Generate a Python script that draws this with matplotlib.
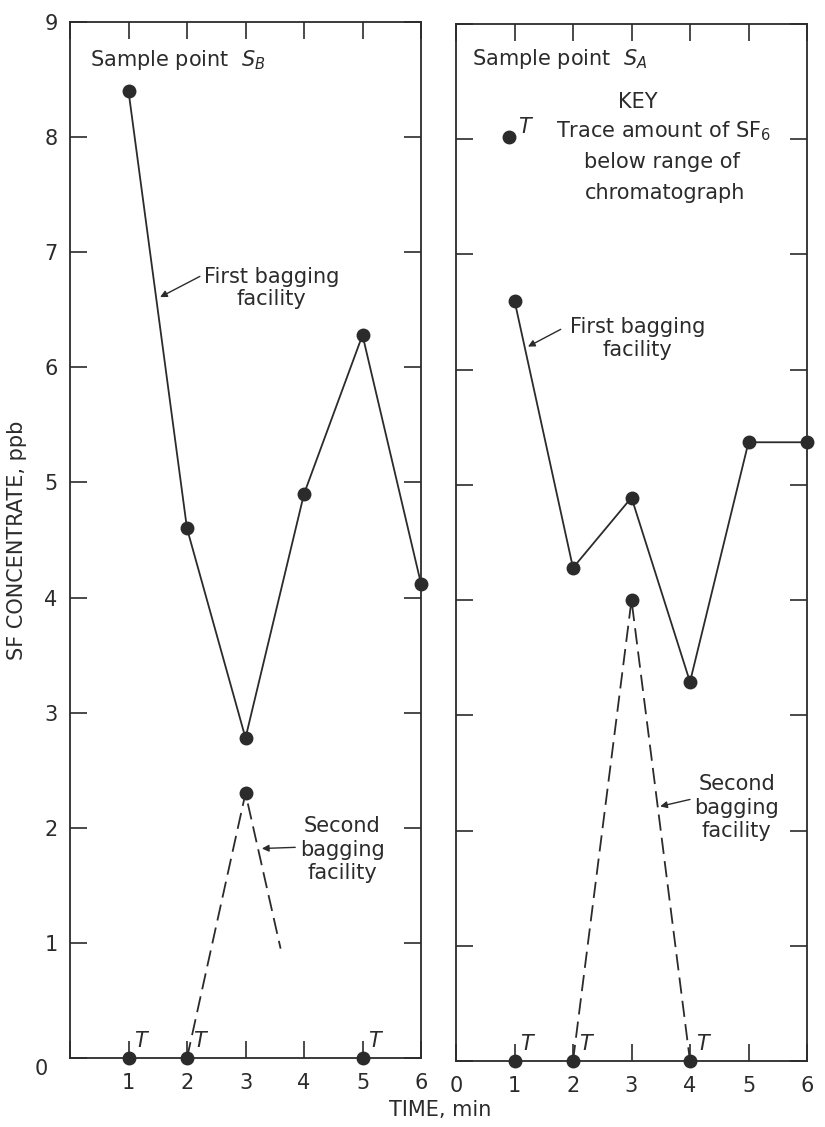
import matplotlib
matplotlib.use("Agg")
import matplotlib.pyplot as plt

# ---- data ----
time_min = [1, 2, 3, 4, 5, 6]

# sample point S_B (left)
sb_first = [8.4, 4.6, 2.78, 4.9, 6.28, 4.12]
sb_second_x = [2, 3, 3.6]
sb_second_y = [0.0, 2.3, 0.95]
sb_trace_x = [1, 2, 5]

# sample point S_A (right)
sa_first = [6.6, 4.28, 4.89, 3.29, 5.37, 5.37]
sa_second_x = [2, 3, 4]
sa_second_y = [0.0, 4.0, 0.0]
sa_trace_x = [1, 2, 4]

key_point = (0.91, 8.02)

ink = "#2b2b2b"
plt.rcParams["font.family"] = ["DejaVu Sans"]
plt.rcParams["mathtext.fontset"] = "dejavusans"
fs = 15

fig = plt.figure(figsize=(8.25, 11.27), dpi=100)
axL = fig.add_axes([70 / 825, 1 - 1058 / 1127, 351 / 825, 1036 / 1127])
axR = fig.add_axes([456 / 825, 1 - 1061 / 1127, 351 / 825, 1037 / 1127])


def style(ax):
    ax.set_xlim(0, 6)
    ax.set_ylim(0, 9)
    for s in ax.spines.values():
        s.set_color(ink)
        s.set_linewidth(1.3)
    ax.set_xticks(range(0, 7))
    ax.set_yticks(range(0, 10))
    ax.tick_params(direction="in", length=12, width=1.2, color=ink,
                   top=True, right=True, labelsize=fs, labelcolor=ink)
    ax.tick_params(axis="x", pad=11)
    ax.tick_params(axis="y", pad=9)


def trace(ax, xs):
    for x in xs:
        ax.plot([x], [0], "o", color=ink, ms=9, clip_on=False, zorder=5)
        ax.annotate("$T$", xy=(x, 0), xytext=(4, 5), textcoords="offset points",
                    fontsize=15, color=ink, va="bottom", ha="left")


def arrow(ax, tip, tail):
    ax.annotate("", xy=tip, xytext=tail,
                arrowprops=dict(arrowstyle="-|>", color=ink, lw=1.0,
                                mutation_scale=10, shrinkA=0, shrinkB=0))


style(axL)
style(axR)

# left panel
axL.plot(time_min, sb_first, "-o", color=ink, lw=1.3, ms=9, clip_on=False, zorder=4)
axL.plot(sb_second_x, sb_second_y, color=ink, lw=1.3, ls=(0, (9, 4)), clip_on=False)
axL.plot([3], [2.3], "o", color=ink, ms=9)
trace(axL, sb_trace_x)
axL.set_yticklabels([""] + [str(i) for i in range(1, 10)])
axL.set_xticklabels([""] + [str(i) for i in range(1, 7)])
axL.annotate("0", xy=(0, 0), xytext=(-29, -1), textcoords="offset pixels",
             fontsize=fs, color=ink, ha="center", va="top")
axL.set_ylabel("SF CONCENTRATE, ppb", fontsize=fs, color=ink, labelpad=12)

axL.text(0.34, 8.67, "Sample point  $S_B$", fontsize=fs, color=ink, va="center")
axL.text(3.45, 6.69, "First bagging\nfacility", fontsize=fs, color=ink,
         va="center", ha="center", linespacing=1.15)
arrow(axL, (1.54, 6.61), (2.22, 6.79))
axL.text(4.65, 1.81, "Second\nbagging\nfacility", fontsize=fs, color=ink,
         va="center", ha="center", linespacing=1.2)
arrow(axL, (3.28, 1.82), (3.85, 1.83))

# right panel
axR.plot(time_min, sa_first, "-o", color=ink, lw=1.3, ms=9, clip_on=False, zorder=4)
axR.plot(sa_second_x, sa_second_y, color=ink, lw=1.3, ls=(0, (9, 4)), clip_on=False)
axR.plot([3], [4.0], "o", color=ink, ms=9)
trace(axR, sa_trace_x)
axR.set_yticklabels([])

axR.text(0.27, 8.7, "Sample point  $S_A$", fontsize=fs, color=ink, va="center")
axR.text(3.11, 8.32, "KEY", fontsize=fs, color=ink, va="center", ha="center")
axR.plot([key_point[0]], [key_point[1]], "o", color=ink, ms=9)
axR.annotate("$T$", xy=key_point, xytext=(6, 0), textcoords="offset points",
             fontsize=15, color=ink, va="bottom", ha="left")
axR.text(1.71, 8.07, "Trace amount of SF$_6$", fontsize=fs, color=ink, va="center")
axR.text(3.52, 7.8, "below range of", fontsize=fs, color=ink, va="center", ha="center")
axR.text(3.57, 7.53, "chromatograph", fontsize=fs, color=ink, va="center", ha="center")
axR.text(3.1, 6.27, "First bagging\nfacility", fontsize=fs, color=ink,
         va="center", ha="center", linespacing=1.15)
arrow(axR, (1.23, 6.2), (1.79, 6.35))
axR.text(4.8, 2.2, "Second\nbagging\nfacility", fontsize=fs, color=ink,
         va="center", ha="center", linespacing=1.2)
arrow(axR, (3.49, 2.21), (4.0, 2.27))

fig.text(440 / 825, 1 - 1110 / 1127, "TIME, min", fontsize=fs, color=ink,
         ha="center", va="center")

fig.savefig("out.png", dpi=100)
